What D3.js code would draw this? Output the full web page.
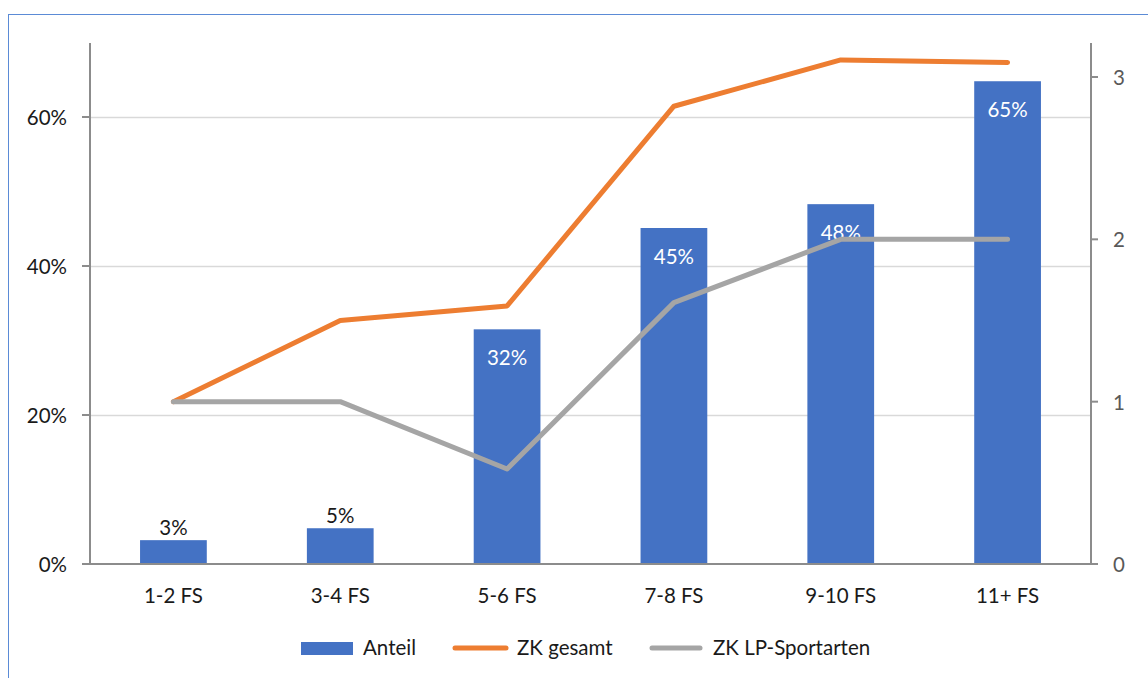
<!DOCTYPE html>
<html>
<head>
<meta charset="utf-8">
<script src="https://cdn.jsdelivr.net/npm/d3@7"></script>
<style>
  html, body { margin: 0; padding: 0; background: #fff; }
  svg { display: block; font-family: Lato, "Open Sans", sans-serif; }
</style>
</head>
<body>
<svg id="chart" width="1148" height="678"></svg>
<script>
const categories = ["1-2 FS", "3-4 FS", "5-6 FS", "7-8 FS", "9-10 FS", "11+ FS"];
const anteil = [0.032, 0.048, 0.315, 0.451, 0.483, 0.648];
const anteilLabels = ["3%", "5%", "32%", "45%", "48%", "65%"];
const zkGesamt = [1.0, 1.50, 1.59, 2.82, 3.105, 3.09];
const zkLP = [1.0, 1.0, 0.585, 1.61, 2.0, 2.0];
const leftTicks = [0, 0.2, 0.4, 0.6];
const rightTicks = [0, 1, 2, 3];
const seriesNames = ["Anteil", "ZK gesamt", "ZK LP-Sportarten"];

(function () {
const colors = { bar: "#4472C4", gesamt: "#ED7D31", lp: "#A5A5A5", axis: "#8c8c8c", grid: "#d9d9d9" };
const fs = 20.5;

const svg = d3.select("#chart");
const pLeft = 90, pRight = 1091, pTop = 43, pBottom = 564;

// Chart border
svg.append("rect").attr("x", 8.5).attr("y", 14.5).attr("width", 1160).attr("height", 700)
  .attr("fill", "none").attr("stroke", "#5b8bd6").attr("stroke-width", 1);

const x = d3.scaleBand().domain(categories).range([pLeft, pRight]).paddingInner(0.6).paddingOuter(0.3);
const xc = d => x(d) + x.bandwidth() / 2;
const yL = d3.scaleLinear().domain([0, 0.6 * (pBottom - pTop) / (564 - 117)]).range([pBottom, pTop]);
const yR = d3.scaleLinear().domain([0, 3 * (pBottom - pTop) / (564 - 77)]).range([pBottom, pTop]);

// gridlines
svg.append("g").selectAll("line").data(leftTicks.filter(t => t > 0)).join("line")
  .attr("x1", pLeft).attr("x2", pRight)
  .attr("y1", d => Math.round(yL(d)) + 0.5).attr("y2", d => Math.round(yL(d)) + 0.5)
  .attr("stroke", colors.grid).attr("stroke-width", 1.5);

// bars
svg.append("g").selectAll("rect").data(categories).join("rect")
  .attr("x", d => x(d)).attr("width", x.bandwidth())
  .attr("y", (d, i) => yL(anteil[i])).attr("height", (d, i) => pBottom - yL(anteil[i]))
  .attr("fill", colors.bar);

// bar labels
svg.append("g").selectAll("text").data(categories).join("text")
  .attr("x", d => xc(d))
  .attr("y", (d, i) => anteil[i] < 0.1 ? yL(anteil[i]) - 5 : yL(anteil[i]) + 36)
  .attr("text-anchor", "middle")
  .attr("font-size", fs)
  .attr("fill", (d, i) => anteil[i] < 0.1 ? "#1a1a1a" : "#ffffff")
  .text((d, i) => anteilLabels[i]);

// axes
const axisG = svg.append("g").attr("stroke", colors.axis).attr("stroke-width", 2);
axisG.append("line").attr("x1", pLeft).attr("x2", pLeft).attr("y1", pTop).attr("y2", pBottom);
axisG.append("line").attr("x1", pRight).attr("x2", pRight).attr("y1", pTop).attr("y2", pBottom);
axisG.append("line").attr("x1", pLeft - 8).attr("x2", pRight + 7).attr("y1", pBottom).attr("y2", pBottom);
axisG.selectAll(".lt").data(leftTicks).join("line").attr("class", "lt")
  .attr("x1", pLeft - 8).attr("x2", pLeft).attr("y1", d => yL(d)).attr("y2", d => yL(d));
axisG.selectAll(".rt").data(rightTicks).join("line").attr("class", "rt")
  .attr("x1", pRight).attr("x2", pRight + 7).attr("y1", d => yR(d)).attr("y2", d => yR(d));

svg.append("g").selectAll("text").data(leftTicks).join("text")
  .attr("x", 67).attr("y", d => yL(d) + 8).attr("text-anchor", "end")
  .attr("font-size", fs).attr("fill", "#1a1a1a")
  .text(d => d3.format(".0%")(d));

svg.append("g").selectAll("text").data(rightTicks).join("text")
  .attr("x", 1113).attr("y", d => yR(d) + 8).attr("text-anchor", "start")
  .attr("font-size", fs).attr("fill", "#595959")
  .text(d => d);

svg.append("g").selectAll("text").data(categories).join("text")
  .attr("x", d => xc(d)).attr("y", 603).attr("text-anchor", "middle")
  .attr("font-size", fs).attr("fill", "#1a1a1a")
  .text(d => d);

// lines
const line = d3.line().x((d, i) => xc(categories[i])).y(d => yR(d));
svg.append("path").datum(zkGesamt).attr("d", line)
  .attr("fill", "none").attr("stroke", colors.gesamt).attr("stroke-width", 5)
  .attr("stroke-linejoin", "round").attr("stroke-linecap", "round");
svg.append("path").datum(zkLP).attr("d", line)
  .attr("fill", "none").attr("stroke", colors.lp).attr("stroke-width", 5)
  .attr("stroke-linejoin", "round").attr("stroke-linecap", "round");

// legend
const lg = svg.append("g").attr("font-size", fs).attr("fill", "#1a1a1a");
lg.append("rect").attr("x", 301).attr("y", 642).attr("width", 52).attr("height", 13).attr("fill", colors.bar);
lg.append("text").attr("x", 363).attr("y", 655).text(seriesNames[0]);
lg.append("line").attr("x1", 455).attr("x2", 506).attr("y1", 648).attr("y2", 648)
  .attr("stroke", colors.gesamt).attr("stroke-width", 5).attr("stroke-linecap", "round");
lg.append("text").attr("x", 517).attr("y", 655).text(seriesNames[1]);
lg.append("line").attr("x1", 652).attr("x2", 700).attr("y1", 648).attr("y2", 648)
  .attr("stroke", colors.lp).attr("stroke-width", 5).attr("stroke-linecap", "round");
lg.append("text").attr("x", 713).attr("y", 655).text(seriesNames[2]);
})();
</script>
</body>
</html>
